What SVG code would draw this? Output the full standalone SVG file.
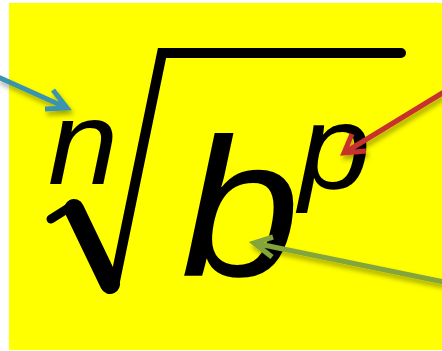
<svg xmlns="http://www.w3.org/2000/svg" width="442" height="351" viewBox="0 0 442 351">
  <defs>
    <style>
      .sym { font-family: "Liberation Sans", Arial, sans-serif; font-style: italic; fill: #000; }
      .rad { fill: none; stroke: #000; stroke-linecap: round; stroke-linejoin: miter; }
      .arr { fill: none; stroke-width: 5; stroke-linecap: butt; stroke-linejoin: miter; filter: url(#sh); }
    </style>
    <filter id="sh" x="-20%" y="-20%" width="140%" height="160%">
      <feDropShadow dx="2" dy="4" stdDeviation="2.5" flood-color="#000" flood-opacity="0.35"/>
    </filter>
  </defs>
  <rect x="9" y="3" width="433" height="347" fill="#ffff00"/>
  <g id="radical">
    <path class="rad" stroke-width="9" d="M51,219 L70,207"/>
    <path class="rad" stroke-width="20" stroke-linecap="round" d="M74,209 L110,284"/>
    <path class="rad" stroke-width="10" d="M114,286 L162,53 L401,53"/>
  </g>
  <g id="n"><text class="sym" transform="translate(48,184) scale(1.07,1)" font-size="118">n</text></g>
  <g id="b"><text class="sym" transform="translate(181,276) scale(1.09,1)" font-size="196">b</text></g>
  <g id="p"><text class="sym" transform="translate(299,188) scale(1.09,1)" font-size="118">p</text></g>
  <g id="connectors">
    <path class="arr" stroke="#3a93ae" d="M-2,77 L67,108 M53,90 L67,108 L45,109"/>
    <path class="arr" stroke="#c8302e" d="M444,92 L344,153 M352,134 L344,153 L366,151"/>
    <path class="arr" stroke="#84a53a" d="M444,282 L254,243 M273,237 L254,243 L272,257"/>
  </g>
</svg>
